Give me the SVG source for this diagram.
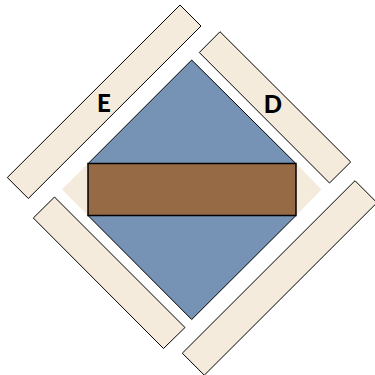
<svg xmlns="http://www.w3.org/2000/svg" width="375" height="375" viewBox="0 0 375 375">
<style>
.bar{fill:#F5EBDC;stroke:#000;stroke-width:1}
.blue{fill:#7692B4;stroke:#000;stroke-width:1}
.wing{fill:#F5EBDC;stroke:none}
.brown{fill:#976A46;stroke:#000;stroke-width:1.5}
.lbl{font-family:Lato,"Liberation Sans",sans-serif;font-weight:900;font-size:24px;fill:#000;text-anchor:middle}
</style>
<rect width="375" height="375" fill="#fff"/>
<g id="barE">
<polygon class="bar" points="180,5 201,26 28.3,198.5 7.3,177.5"/>
<text class="lbl" x="104" y="112">E</text>
</g>
<g id="barD">
<polygon class="bar" points="220,31.7 350.7,162 329.5,183 199.3,52.5"/>
<text class="lbl" x="273" y="112.5">D</text>
</g>
<g id="barBL">
<polygon class="bar" points="54.5,197 185,327.5 163.5,348.5 33.3,218"/>
</g>
<g id="barBR">
<polygon class="bar" points="355,180.7 377,202.7 204.3,375.2 182.3,353.2"/>
</g>
<g id="diamond">
<polygon class="wing" points="62,189.5 88,163.5 88,215.5"/>
<polygon class="wing" points="321.5,189.5 296,163.5 296,215.5"/>
<polygon class="blue" points="191.7,60 88,163.7 296,163.7"/>
<polygon class="blue" points="88,215.5 296,215.5 191.7,319.5"/>
</g>
<g id="band">
<rect class="brown" x="88" y="163.5" width="208" height="52"/>
</g>
</svg>
